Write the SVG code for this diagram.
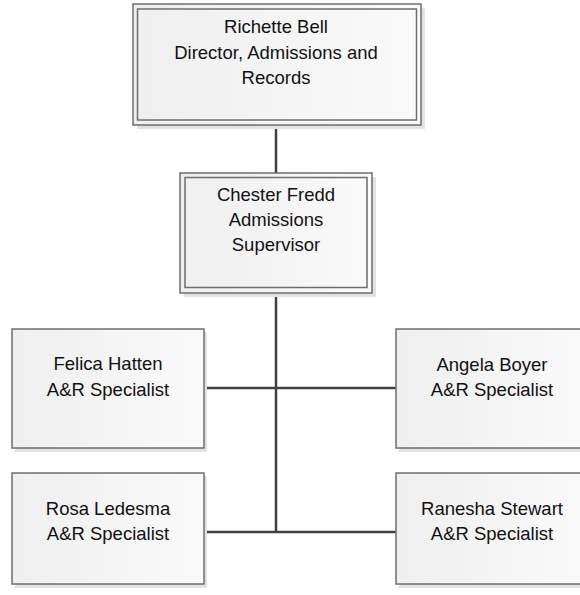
<svg xmlns="http://www.w3.org/2000/svg" width="580" height="595" viewBox="0 0 580 595">
<defs>
<linearGradient id="g" x1="0" y1="0" x2="1" y2="0">
<stop offset="0" stop-color="#efefef"/>
<stop offset="1" stop-color="#fafafa"/>
</linearGradient>
</defs>
<style>
.sh{fill:#e2e2e2;}
.bx{fill:url(#g);stroke:#6e6e6e;stroke-width:1.5;}
.in{fill:none;stroke:#6e6e6e;stroke-width:1.5;}
.t{font-family:"Liberation Sans",Arial,sans-serif;font-size:18.5px;fill:#111111;text-anchor:middle;}
.c{stroke:#404040;stroke-width:2.5;fill:none;}
</style>
<rect x="0" y="0" width="580" height="595" fill="#ffffff"/>
<g id="connectors">
<line class="c" x1="276" y1="125" x2="276" y2="173"/>
<line class="c" x1="276" y1="293" x2="276" y2="533"/>
<line class="c" x1="204" y1="388" x2="396" y2="388"/>
<line class="c" x1="204" y1="532" x2="396" y2="532"/>
</g>
<g id="richette">
<rect class="sh" x="137" y="8" width="288" height="121"/>
<rect class="bx" x="133" y="4" width="288" height="121"/>
<rect class="in" x="137.5" y="9" width="279" height="111"/>
<text class="t" x="276" y="33">Richette Bell</text>
<text class="t" x="276" y="59">Director, Admissions and</text>
<text class="t" x="276" y="84">Records</text>
</g>
<g id="chester">
<rect class="sh" x="184" y="177" width="192" height="120"/>
<rect class="bx" x="180" y="173" width="192" height="120"/>
<rect class="in" x="185" y="177.5" width="182" height="110"/>
<text class="t" x="276" y="201">Chester Fredd</text>
<text class="t" x="276" y="226">Admissions</text>
<text class="t" x="276" y="251">Supervisor</text>
</g>
<g id="felica">
<rect class="sh" x="15" y="332" width="192" height="120"/>
<rect class="bx" x="12" y="329" width="192" height="119"/>
<text class="t" x="108" y="370">Felica Hatten</text>
<text class="t" x="108" y="396">A&amp;R Specialist</text>
</g>
<g id="angela">
<rect class="sh" x="399" y="332" width="192" height="120"/>
<rect class="bx" x="396" y="329" width="192" height="119"/>
<text class="t" x="492" y="371">Angela Boyer</text>
<text class="t" x="492" y="396">A&amp;R Specialist</text>
</g>
<g id="rosa">
<rect class="sh" x="15" y="476" width="192" height="112"/>
<rect class="bx" x="12" y="473" width="192" height="111"/>
<text class="t" x="108" y="515">Rosa Ledesma</text>
<text class="t" x="108" y="540">A&amp;R Specialist</text>
</g>
<g id="ranesha">
<rect class="sh" x="399" y="476" width="192" height="112"/>
<rect class="bx" x="396" y="473" width="192" height="111"/>
<text class="t" x="492" y="515">Ranesha Stewart</text>
<text class="t" x="492" y="540">A&amp;R Specialist</text>
</g>
</svg>
